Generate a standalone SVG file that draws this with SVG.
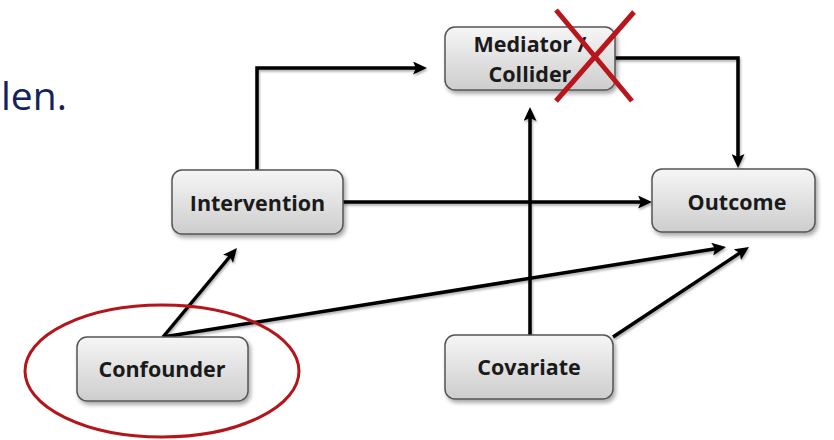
<svg xmlns="http://www.w3.org/2000/svg" width="834" height="440" viewBox="0 0 834 440">
<defs>
<linearGradient id="boxfill" x1="0" y1="0" x2="0" y2="1">
<stop offset="0" stop-color="#f6f6f6"/>
<stop offset="1" stop-color="#cdcdcd"/>
</linearGradient>
<filter id="shadow" x="-10%" y="-20%" width="130%" height="150%">
<feDropShadow dx="2" dy="3" stdDeviation="2" flood-color="#000" flood-opacity="0.35"/>
</filter>
<filter id="lshadow" x="-5%" y="-5%" width="110%" height="110%">
<feDropShadow dx="1" dy="2" stdDeviation="1.2" flood-color="#000" flood-opacity="0.3"/>
</filter>
<marker id="arrow" markerUnits="userSpaceOnUse" markerWidth="15" markerHeight="13" refX="5" refY="6.5" orient="auto">
<path d="M0,0 L14,6.5 L0,13 L3,6.5 Z" fill="#000"/>
</marker>
</defs>
<style>
.box{fill:url(#boxfill);stroke:#555;stroke-width:1.5;filter:url(#shadow)}
.lbl{font-family:"Open Sans","Noto Sans","Liberation Sans",sans-serif;font-weight:bold;font-size:21.5px;fill:#1a1a1a;text-anchor:middle}
.edge{fill:none;stroke:#000;stroke-width:3.5;marker-end:url(#arrow)}
.red{fill:none;stroke:#b8161d;stroke-width:5}
</style>
<rect width="834" height="440" fill="#fff"/>
<text x="1" y="110" font-family="'Open Sans','Noto Sans',sans-serif" font-size="39" fill="#13235f">len.</text>
<g id="connectors" filter="url(#lshadow)">
<path class="edge" d="M257,170 V68 H418"/>
<path class="edge" d="M615,58 H738 V159"/>
<path class="edge" d="M343,202 H643"/>
<path class="edge" d="M530,335 V116"/>
<path class="edge" d="M163,337 L231.2,255"/>
<path class="edge" d="M163,337 L717.1,248.4"/>
<path class="edge" d="M613,337 L741.5,251.9"/>
</g>
<g id="mediator">
<rect class="box" x="445" y="27" width="170" height="63" rx="10"/>
<text class="lbl" x="530" y="52">Mediator /</text>
<text class="lbl" x="530" y="82">Collider</text>
</g>
<g id="intervention">
<rect class="box" x="172" y="170" width="171" height="64" rx="10"/>
<text class="lbl" x="257.5" y="211">Intervention</text>
</g>
<g id="outcome">
<rect class="box" x="652" y="169" width="163" height="63" rx="10"/>
<text class="lbl" x="737" y="210">Outcome</text>
</g>
<g id="confounder">
<rect class="box" x="77" y="337" width="171" height="64" rx="10"/>
<text class="lbl" x="162" y="377">Confounder</text>
</g>
<g id="covariate">
<rect class="box" x="445" y="335" width="168" height="64" rx="10"/>
<text class="lbl" x="529" y="375">Covariate</text>
</g>
<g id="annotations">
<path class="red" d="M556,10 L632,101 M634,12 L556,101"/>
<ellipse cx="162" cy="371" rx="137" ry="66" fill="none" stroke="#b3151b" stroke-width="3"/>
</g>
</svg>
